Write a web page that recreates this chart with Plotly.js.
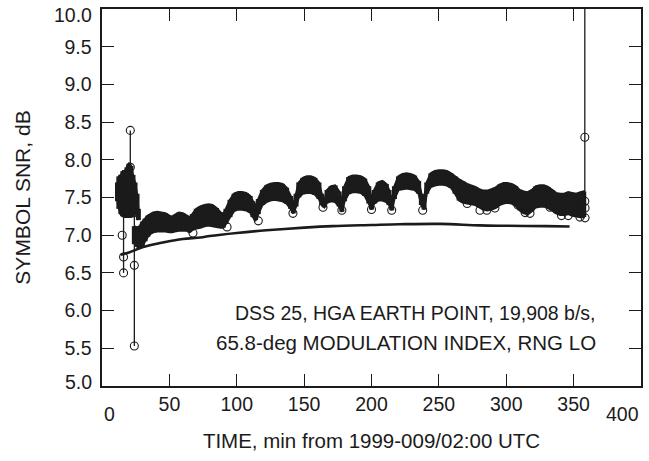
<!DOCTYPE html>
<html>
<head>
<meta charset="utf-8">
<script src="https://cdn.plot.ly/plotly-3.0.1.min.js"></script>
<style>html,body{margin:0;padding:0;background:#fff;}#chart{width:649px;height:461px;}</style>
</head>
<body>
<div id="chart"></div>
<script>
// ---- data ----
// initial cluster (envelope of the dense measured points)
const clusterTime  = [11.5, 12.5, 14, 15.5, 17, 18.5, 20, 21.5, 23, 24.5, 26, 27];
const clusterUpper = [7.70, 7.78, 7.80, 7.85, 7.85, 7.90, 7.95, 7.92, 7.80, 7.70, 7.55, 7.35];
const clusterLower = [7.45, 7.35, 7.28, 7.25, 7.24, 7.24, 7.24, 7.24, 7.25, 7.27, 7.30, 7.20];

// main measured band (upper / lower envelope of the dense points)
const bandTime  = [24, 26, 28, 30, 32, 34, 36, 38, 41, 44, 47, 50, 52, 54, 57, 60, 63, 65, 67, 70,
                   73, 76, 79, 82, 85, 88, 90, 92, 95, 98, 101, 104, 107, 110, 112, 114, 116, 119, 122, 125,
                   128, 131, 134, 137, 140, 142, 144, 146, 149, 152, 155, 158, 161, 163, 165, 167, 170, 173, 176, 178,
                   180, 183, 186, 189, 192, 195, 198, 200, 202, 205, 208, 211, 213, 215, 217, 220, 223, 226, 229, 232,
                   235, 237, 239, 241, 244, 247, 250, 253, 256, 259, 262, 265, 268, 271, 274, 277, 280, 283, 286, 289,
                   292, 295, 298, 301, 304, 307, 310, 313, 316, 319, 322, 325, 328, 331, 334, 337, 340, 343, 346, 349,
                   352, 355, 357.5];
const bandUpper = [7.12, 7.10, 7.12, 7.18, 7.22, 7.26, 7.28, 7.30, 7.31, 7.30, 7.29, 7.26, 7.24, 7.27, 7.30, 7.29, 7.26, 7.23, 7.28, 7.35,
                   7.38, 7.40, 7.41, 7.40, 7.36, 7.30, 7.28, 7.35, 7.47, 7.55, 7.57, 7.57, 7.56, 7.52, 7.45, 7.38, 7.48, 7.60, 7.66, 7.68,
                   7.69, 7.69, 7.68, 7.63, 7.52, 7.40, 7.55, 7.70, 7.76, 7.78, 7.78, 7.76, 7.70, 7.55, 7.45, 7.60, 7.65, 7.66, 7.58, 7.45,
                   7.65, 7.77, 7.79, 7.79, 7.78, 7.75, 7.65, 7.48, 7.60, 7.70, 7.72, 7.68, 7.60, 7.45, 7.65, 7.78, 7.81, 7.82, 7.81, 7.79,
                   7.72, 7.55, 7.48, 7.70, 7.82, 7.85, 7.86, 7.86, 7.85, 7.82, 7.78, 7.74, 7.71, 7.68, 7.66, 7.64, 7.61, 7.59, 7.59, 7.61,
                   7.63, 7.67, 7.69, 7.69, 7.68, 7.65, 7.60, 7.58, 7.57, 7.60, 7.65, 7.66, 7.66, 7.64, 7.60, 7.56, 7.55, 7.55, 7.57, 7.56,
                   7.55, 7.57, 7.58];
const bandLower = [6.88, 6.85, 6.83, 6.86, 6.92, 6.98, 7.02, 7.04, 7.05, 7.05, 7.05, 7.04, 7.04, 7.05, 7.06, 7.06, 7.06, 7.04, 7.07, 7.09,
                   7.10, 7.12, 7.13, 7.12, 7.11, 7.10, 7.10, 7.15, 7.24, 7.32, 7.34, 7.34, 7.33, 7.30, 7.24, 7.20, 7.28, 7.40, 7.44, 7.46,
                   7.47, 7.46, 7.45, 7.42, 7.35, 7.29, 7.38, 7.50, 7.55, 7.56, 7.56, 7.54, 7.48, 7.40, 7.37, 7.43, 7.45, 7.44, 7.38, 7.31,
                   7.45, 7.55, 7.57, 7.57, 7.56, 7.52, 7.42, 7.34, 7.42, 7.46, 7.46, 7.44, 7.40, 7.33, 7.48, 7.60, 7.61, 7.62, 7.61, 7.60,
                   7.55, 7.40, 7.34, 7.55, 7.64, 7.66, 7.67, 7.67, 7.66, 7.63, 7.55, 7.46, 7.43, 7.42, 7.41, 7.40, 7.37, 7.34, 7.33, 7.34,
                   7.36, 7.40, 7.42, 7.43, 7.42, 7.39, 7.33, 7.29, 7.28, 7.32, 7.37, 7.38, 7.38, 7.36, 7.33, 7.29, 7.27, 7.27, 7.28, 7.26,
                   7.25, 7.24, 7.24];

// isolated low points below the band
const dipTime = [15, 67.5, 92.8, 116, 141.7, 164, 178, 200, 215, 238, 271, 280.5, 285.6, 291.6, 308.7, 314, 317.6, 332.5, 341, 346, 354.7, 358.5, 358.5];
const dipSNR  = [7.00, 7.03, 7.11, 7.19, 7.29, 7.37, 7.33, 7.34, 7.33, 7.33, 7.42, 7.33, 7.33, 7.36, 7.40, 7.30, 7.29, 7.37, 7.26, 7.26, 7.24, 7.23, 7.36];

// outlier excursions (connected measurements), separated by gaps
const spikeTime = [16, 16, 16, null, 21, 21, null, 24, 24, 24, null, 358.3, 358.3, 358.3];
const spikeSNR  = [7.30, 6.71, 6.50, null, 7.90, 8.39, null, 7.30, 6.60, 5.53, null, 7.45, 8.30, 10.6];

// predicted SNR curve
const predTime = [14, 20, 30, 47, 60, 73, 80, 100, 122, 150, 171, 200, 221, 251, 280, 300, 330, 347];
const predSNR  = [6.74, 6.77, 6.84, 6.91, 6.95, 6.97, 6.99, 7.03, 7.065, 7.10, 7.12, 7.135, 7.145, 7.15, 7.13, 7.125, 7.12, 7.115];

const xTicks = [0, 50, 100, 150, 200, 250, 300, 350, 400];
const yTicks = [5.0, 5.5, 6.0, 6.5, 7.0, 7.5, 8.0, 8.5, 9.0, 9.5, 10.0];
const noteLines = ['DSS 25, HGA EARTH POINT, 19,908 b/s,', '65.8-deg MODULATION INDEX, RNG LO'];

const INK = '#1b1b1b';
const FONT = 'Liberation Sans, Arial, Helvetica, sans-serif';
const openMk = {symbol: 'circle-open', size: 8, color: INK, line: {width: 1.1, color: INK}};

// closed outline (upper edge forward, lower edge back) for a filled region
function outline(t, up, lo) {
  return {x: t.concat(t.slice().reverse()), y: up.concat(lo.slice().reverse())};
}
// vertical strokes from lower to upper envelope at every sample (solid infill)
function strokes(t, up, lo) {
  const x = [], y = [];
  t.forEach((v, i) => { x.push(v, v, null); y.push(lo[i], up[i], null); });
  return {x, y};
}
const clusterShape = outline(clusterTime, clusterUpper, clusterLower);
const bandShape = outline(bandTime, bandUpper, bandLower);
const bandStrokes = strokes(bandTime, bandUpper, bandLower);
const clusterStrokes = strokes(clusterTime, clusterUpper, clusterLower);

const traces = [
  {x: clusterShape.x, y: clusterShape.y, mode: 'lines', fill: 'toself', fillcolor: INK, line: {color: INK, width: 2, simplify: false}, hoverinfo: 'skip'},
  {x: bandShape.x, y: bandShape.y, mode: 'lines', fill: 'toself', fillcolor: INK, line: {color: INK, width: 2.2, simplify: false}, hoverinfo: 'skip'},
  {x: bandStrokes.x, y: bandStrokes.y, mode: 'lines', line: {color: INK, width: 5}, connectgaps: false, hoverinfo: 'skip'},
  {x: clusterStrokes.x, y: clusterStrokes.y, mode: 'lines', line: {color: INK, width: 5}, connectgaps: false, hoverinfo: 'skip'},
  {x: spikeTime, y: spikeSNR, mode: 'lines+markers', line: {color: INK, width: 1.3}, marker: openMk, connectgaps: false},
  {x: dipTime, y: dipSNR, mode: 'markers', marker: openMk},
  {x: predTime, y: predSNR, mode: 'lines', line: {color: INK, width: 2.6, shape: 'spline'}}
];

const axisCommon = {
  showgrid: false, zeroline: false, showline: true, linecolor: INK, linewidth: 1.6,
  mirror: 'ticks', ticks: 'inside', ticklen: 12, tickwidth: 1.2, tickcolor: INK,
  tickfont: {family: FONT, size: 19.5, color: INK}
};

const endLabel = (txt, extra) => Object.assign({text: txt, showarrow: false, font: {family: FONT, size: 19.5, color: INK}}, extra);

const layout = {
  width: 649, height: 461,
  margin: {l: 102, r: 8, t: 9, b: 75},
  paper_bgcolor: '#fff', plot_bgcolor: '#fff',
  showlegend: false,
  font: {family: FONT, color: INK},
  xaxis: Object.assign({}, axisCommon, {
    range: [0, 400], tickmode: 'array', tickvals: xTicks,
    ticktext: xTicks.map(v => (v === xTicks[0] || v === xTicks[xTicks.length - 1]) ? '' : String(v)),
    title: {text: 'TIME, min from 1999-009/02:00 UTC', font: {family: FONT, size: 20.5, color: INK}, standoff: 19}
  }),
  yaxis: Object.assign({}, axisCommon, {
    range: [5, 10], tickmode: 'array', tickvals: yTicks, ticklabelstandoff: 5,
    ticktext: yTicks.map(v => (v === yTicks[0] || v === yTicks[yTicks.length - 1]) ? '' : v.toFixed(1)),
    title: {text: 'SYMBOL SNR, dB', font: {family: FONT, size: 21, color: INK}, standoff: 28}
  }),
  annotations: [
    endLabel(String(xTicks[0]), {xref: 'x', yref: 'paper', x: xTicks[0], y: 0, yshift: -28, xanchor: 'left', yanchor: 'middle'}),
    endLabel(String(xTicks[xTicks.length - 1]), {xref: 'x', yref: 'paper', x: xTicks[xTicks.length - 1], y: 0, yshift: -28, xanchor: 'right', yanchor: 'middle'}),
    endLabel(yTicks[yTicks.length - 1].toFixed(1), {xref: 'paper', yref: 'y', x: 0, y: yTicks[yTicks.length - 1], xshift: -8, yshift: -6, xanchor: 'right', yanchor: 'middle'}),
    endLabel(yTicks[0].toFixed(1), {xref: 'paper', yref: 'y', x: 0, y: yTicks[0], xshift: -8, yshift: 4, xanchor: 'right', yanchor: 'middle'}),
    {xref: 'x', yref: 'y', x: 368, y: 5.97, xanchor: 'right', yanchor: 'middle', text: noteLines[0], showarrow: false, font: {family: FONT, size: 19.5, color: INK}},
    {xref: 'x', yref: 'y', x: 368, y: 5.58, xanchor: 'right', yanchor: 'middle', text: noteLines[1], showarrow: false, font: {family: FONT, size: 20.5, color: INK}}
  ]
};

Plotly.newPlot('chart', traces, layout, {staticPlot: true, displayModeBar: false});
</script>
</body>
</html>
